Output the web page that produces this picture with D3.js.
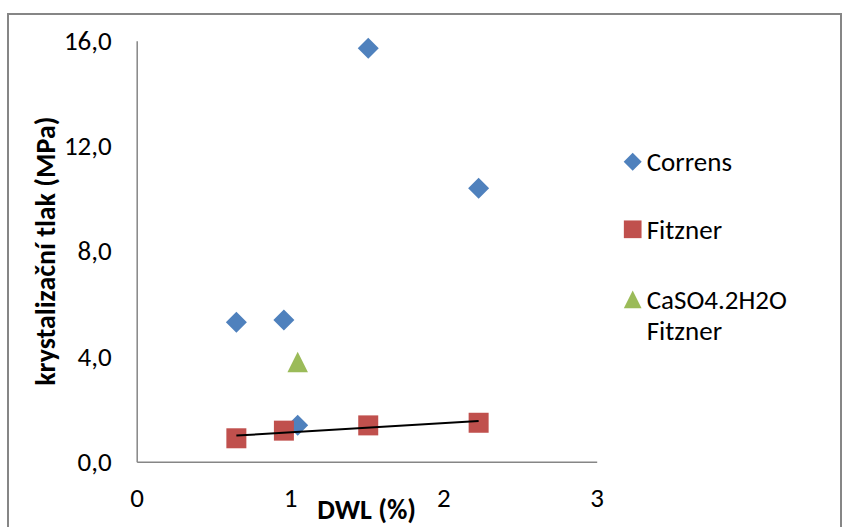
<!DOCTYPE html>
<html>
<head>
<meta charset="utf-8">
<script src="https://cdn.jsdelivr.net/npm/d3@7"></script>
<style>
  body { margin: 0; background: #fff; }
  svg { display: block; }
  text { font-family: Carlito, Calibri, Lato, sans-serif; fill: #000; }
</style>
</head>
<body>
<svg id="chart" width="842" height="527"></svg>
<script>
// Axis ticks
const xTicks = [0, 1, 2, 3];
const yTicks = [0, 4, 8, 12, 16];

// Series: DWL (%) vs. crystallisation pressure (MPa)
const correnX = [0.65, 0.96, 1.05, 1.51, 2.23];
const correnY = [5.30, 5.39, 1.39, 15.71, 10.39];
const fitznerX = [0.65, 0.96, 1.51, 2.23];
const fitznerY = [0.89, 1.18, 1.38, 1.48];
const gypsumX = [1.05];
const gypsumY = [3.79];

const seriesNames = [["Correns"], ["Fitzner"], ["CaSO4.2H2O", "Fitzner"]];
const seriesColors = ["#4F81BD", "#C0504D", "#9BBB59"];
const xTitle = "DWL (%)";
const yTitle = "krystalizační tlak (MPa)";

const svg = d3.select("#chart");

// chart frame
svg.append("rect")
  .attr("x", 8).attr("y", 14).attr("width", 833).attr("height", 600)
  .attr("fill", "#fff").attr("stroke", "#868686").attr("stroke-width", 2);

const x = d3.scaleLinear().domain([0, 3]).range([136.7, 596.7]);
const y = d3.scaleLinear().domain([0, 16]).range([461.7, 40.7]);

const fs = 27;

// axes
const xAxis = svg.append("g")
  .attr("transform", `translate(0,${y(0)})`)
  .call(d3.axisBottom(x).tickValues(xTicks).tickSize(0).tickPadding(26).tickFormat(d3.format("d")));
const yAxis = svg.append("g")
  .attr("transform", `translate(${x(0)},0)`)
  .call(d3.axisLeft(y).tickValues(yTicks).tickSize(0).tickPadding(25)
    .tickFormat(d => d3.format(".1f")(d).replace(".", ",")));
[xAxis, yAxis].forEach(g => {
  g.select(".domain").attr("stroke", "#868686").attr("stroke-width", 1.5);
  g.selectAll("text").style("font-size", fs + "px").attr("fill", "#000");
});

// axis titles
svg.append("text")
  .attr("x", (x(0) + x(3)) / 2).attr("y", 519)
  .attr("text-anchor", "middle")
  .style("font-size", "28px").style("font-weight", "bold")
  .text(xTitle);
svg.append("text")
  .attr("transform", `translate(45,${(y(0) + y(16)) / 2}) rotate(-90)`)
  .attr("text-anchor", "middle").attr("dy", "0.35em")
  .style("font-size", "28px").style("font-weight", "bold")
  .text(yTitle);

// marker shapes centred at the origin
function markerPath(kind, s) {
  const p = d3.path();
  const h = s / 2;
  if (kind === 0) {        // diamond
    p.moveTo(0, -h); p.lineTo(h, 0); p.lineTo(0, h); p.lineTo(-h, 0);
  } else if (kind === 1) { // square
    p.rect(-h, -h, s, s);
  } else {                 // triangle
    p.moveTo(0, -h); p.lineTo(h, h); p.lineTo(-h, h);
  }
  p.closePath();
  return p.toString();
}

const series = [
  { xs: correnX, ys: correnY, size: 21 },
  { xs: fitznerX, ys: fitznerY, size: 20 },
  { xs: gypsumX, ys: gypsumY, size: 20.5 }
];

series.forEach((s, i) => {
  svg.append("g").selectAll("path")
    .data(s.xs.map((v, j) => [v, s.ys[j]]))
    .join("path")
    .attr("transform", d => `translate(${x(d[0])},${y(d[1])})`)
    .attr("d", markerPath(i, s.size))
    .attr("fill", seriesColors[i]);
});

// linear trend line for the Fitzner series
const mx = d3.mean(fitznerX), my = d3.mean(fitznerY);
const sxy = d3.sum(fitznerX, (v, j) => (v - mx) * (fitznerY[j] - my));
const sxx = d3.sum(fitznerX, v => (v - mx) * (v - mx));
const slope = sxy / sxx, intercept = my - slope * mx;
const [x0, x1] = d3.extent(fitznerX);
svg.append("line")
  .attr("x1", x(x0)).attr("y1", y(intercept + slope * x0))
  .attr("x2", x(x1)).attr("y2", y(intercept + slope * x1))
  .attr("stroke", "#000").attr("stroke-width", 2);

// legend
const legendY = [161.7, 229.3, 299.3];
seriesNames.forEach((lines, i) => {
  const g = svg.append("g").attr("transform", `translate(632.7,${legendY[i]})`);
  g.append("path").attr("d", markerPath(i, i === 0 ? 18 : 17.7)).attr("fill", seriesColors[i]);
  lines.forEach((t, k) => {
    g.append("text")
      .attr("x", 14).attr("y", k * 31).attr("dy", "0.35em")
      .style("font-size", fs + "px")
      .text(t);
  });
});
</script>
</body>
</html>
